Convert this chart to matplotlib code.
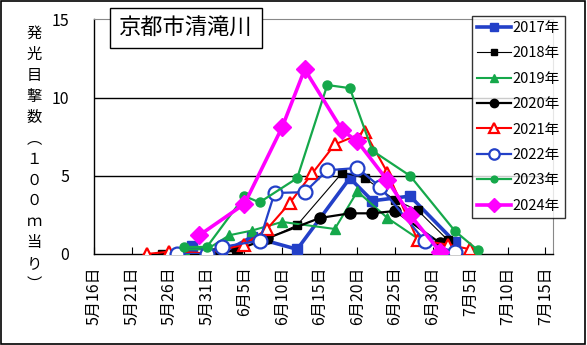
import numpy as np
import pandas as pd
import matplotlib
matplotlib.use("Agg")
import matplotlib.pyplot as plt
import matplotlib.dates as mdates
from matplotlib.patches import Rectangle

plt.rcParams['font.family'] = ['Noto Sans CJK JP', 'DejaVu Sans']

# observation dates (month/day) and counts per 100m, per year
d2017 = ["5/29", "6/2", "6/6", "6/12", "6/19", "6/22", "6/27", "7/3"]
v2017 = [0.5, 0.05, 1.1, 0.3, 4.85, 3.4, 3.7, 0.75]
d2018 = ["5/25", "6/1", "6/4", "6/8", "6/12", "6/18", "6/21", "6/25", "6/28", "7/2"]
v2018 = [0.0, 0.0, 0.3, 0.95, 1.85, 5.2, 4.85, 3.45, 2.8, 0.9]
d2019 = ["5/28", "5/31", "6/3", "6/6", "6/10", "6/17", "6/20", "6/24", "6/28"]
v2019 = [0.3, 0.3, 1.2, 1.5, 2.05, 1.6, 4.0, 2.3, 1.0]
d2020 = ["6/1", "6/4", "6/8", "6/15", "6/19", "6/22", "6/25", "7/1"]
v2020 = [0.0, 0.25, 1.0, 2.3, 2.6, 2.6, 2.75, 0.7]
d2021 = ["5/23", "5/26", "5/31", "6/5", "6/8", "6/11", "6/14", "6/17", "6/21", "6/24", "6/28", "7/2", "7/5"]
v2021 = [0.0, 0.15, 0.05, 0.6, 1.6, 3.25, 5.15, 7.0, 7.8, 5.2, 0.9, 0.6, 0.3]
d2022 = ["5/27", "5/31", "6/2", "6/7", "6/9", "6/13", "6/16", "6/20", "6/23", "6/29", "7/3"]
v2022 = [0.0, 0.0, 0.45, 0.85, 3.9, 3.95, 5.35, 5.5, 4.3, 0.8, 0.1]
d2023 = ["5/28", "5/31", "6/5", "6/7", "6/12", "6/16", "6/19", "6/22", "6/27", "7/3", "7/6"]
v2023 = [0.45, 0.45, 3.7, 3.3, 4.85, 10.8, 10.6, 6.6, 5.0, 1.45, 0.25]
d2024 = ["5/30", "6/5", "6/10", "6/13", "6/18", "6/20", "6/24", "6/27", "7/1"]
v2024 = [1.2, 3.2, 8.1, 11.8, 7.9, 7.2, 4.7, 2.5, 0.15]

years = ["2017年", "2018年", "2019年", "2020年", "2021年", "2022年", "2023年", "2024年"]
dates = [d2017, d2018, d2019, d2020, d2021, d2022, d2023, d2024]
values = [v2017, v2018, v2019, v2020, v2021, v2022, v2023, v2024]

blue = "#2340c8"
green = "#15a84a"
styles = [
    dict(color=blue, lw=2.6, marker="s", ms=7, mfc=blue, mec=blue),
    dict(color="black", lw=0.8, marker="s", ms=6, mfc="black", mec="black"),
    dict(color=green, lw=1.5, marker="^", ms=7, mfc=green, mec=green),
    dict(color="black", lw=1.6, marker="o", ms=8, mfc="black", mec="black"),
    dict(color="red", lw=1.5, marker="^", ms=9, mfc="white", mec="red", mew=1.6),
    dict(color=blue, lw=1.6, marker="o", ms=10, mfc="white", mec=blue, mew=1.6),
    dict(color=green, lw=1.6, marker="o", ms=6.5, mfc=green, mec=green),
    dict(color="#ff00ff", lw=2.6, marker="D", ms=9, mfc="#ff00ff", mec="#ff00ff"),
]


def to_date(md):
    return pd.to_datetime(["2000/" + s for s in md], format="%Y/%m/%d")


fig = plt.figure(figsize=(5.87, 3.45), dpi=100)
ax = fig.add_axes([94 / 587, 1 - 254 / 345, (553 - 94) / 587, (254 - 19.3) / 345])

for lab, d, v, st in zip(years, dates, values, styles):
    ax.plot(to_date(d), v, label=lab, zorder=3, **st)

ax.set_ylim(0, 15)
ax.set_yticks([0, 5, 10, 15])
ax.set_xlim(pd.Timestamp("2000-05-16"), pd.Timestamp("2000-07-16"))
ticks = pd.date_range("2000-05-16", "2000-07-15", freq="5D")
ax.set_xticks(ticks)
ax.set_xticklabels([f"{t.month}月{t.day}日" for t in ticks], rotation=90, fontsize=11.5)
ax.tick_params(axis="x", direction="in", length=5, pad=9, width=0.8)
ax.tick_params(axis="y", length=0, pad=18, labelsize=11.5)
for y in [5, 10]:
    ax.axhline(y, color="black", lw=1, zorder=1)
for s in ["top", "right"]:
    ax.spines[s].set_color("#888888")
for s in ["left", "bottom"]:
    ax.spines[s].set_linewidth(1)

leg = ax.legend(loc="upper left", bbox_to_anchor=(472 / 587, 1 - 16 / 345),
                bbox_transform=fig.transFigure, fontsize=10.5, frameon=True,
                fancybox=False, edgecolor="black", borderpad=0.35,
                labelspacing=0.78, handlelength=2.3, handletextpad=0.1,
                borderaxespad=0, markerscale=0.75)
leg.get_frame().set_linewidth(1)
leg.set_zorder(5)

# vertical y axis title, one character per line
ylab = ["発", "光", "目", "撃", "数", "︵", "１", "０", "０", "ｍ", "当", "り", "︶"]
fig.text(34 / 587, 1 - 159 / 345, "\n".join(ylab), ha="center", va="center",
         fontsize=11, linespacing=1.3)

fig.text(186 / 587, 1 - 28 / 345, "京都市清滝川", ha="center", va="center", fontsize=16,
         bbox=dict(boxstyle="square,pad=0.4", fc="white", ec="black", lw=1), zorder=6)

fig.patches.append(Rectangle((0.002, 0.003), 0.995, 0.993, transform=fig.transFigure,
                             fill=False, ec="black", lw=1.2))

fig.savefig("out.png", dpi=100)
